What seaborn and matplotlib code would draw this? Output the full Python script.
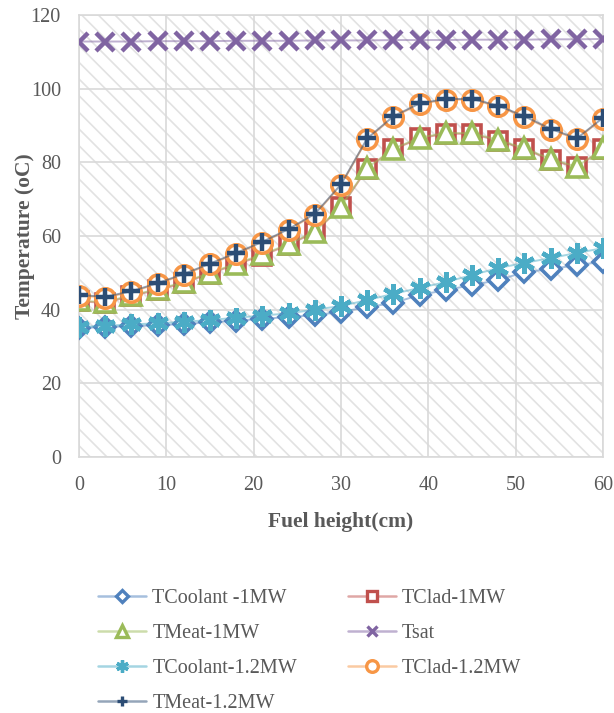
import numpy as np
import pandas as pd
import matplotlib
matplotlib.use("Agg")
import matplotlib.pyplot as plt
from matplotlib.patches import Rectangle
from matplotlib.lines import Line2D
import seaborn as sns

height = [0, 3, 6, 9, 12, 15, 18, 21, 24, 27, 30, 33, 36, 39, 42, 45, 48, 51, 54, 57, 60]

t_coolant_1mw = [35.0, 35.3, 35.5, 35.8, 36.1, 36.6, 37.0, 37.5, 38.0, 38.5, 39.4, 40.7, 41.8, 44.0, 45.3, 46.7, 48.0, 50.2, 51.0, 52.1, 53.0]
t_clad_1mw = [42.3, 41.8, 43.8, 45.3, 47.3, 49.8, 52.3, 54.7, 57.6, 61.0, 67.8, 78.3, 83.5, 86.5, 87.8, 87.7, 85.9, 83.6, 80.7, 78.6, 83.6]
t_meat_1mw = [42.5, 42.0, 44.0, 45.5, 47.5, 50.0, 52.5, 55.0, 57.8, 61.2, 68.0, 78.5, 83.7, 86.7, 88.0, 87.9, 86.1, 83.8, 80.9, 78.8, 83.8]
t_sat = [112.8, 112.8, 112.8, 112.9, 112.9, 112.9, 113.0, 113.0, 113.0, 113.1, 113.1, 113.1, 113.2, 113.2, 113.2, 113.3, 113.3, 113.3, 113.4, 113.4, 113.5]
t_coolant_12mw = [35.3, 35.6, 36.0, 36.3, 36.7, 37.2, 37.8, 38.4, 39.0, 40.0, 41.0, 42.6, 44.3, 45.9, 47.5, 49.4, 51.3, 52.7, 54.0, 55.4, 56.7]
t_clad_12mw = [43.8, 43.3, 44.8, 47.0, 49.5, 52.3, 55.2, 58.2, 61.7, 65.8, 73.8, 86.3, 92.3, 95.8, 97.0, 97.0, 95.2, 92.3, 88.9, 86.3, 91.9]
t_meat_12mw = [44.0, 43.5, 45.0, 47.2, 49.7, 52.5, 55.4, 58.4, 61.9, 66.0, 74.0, 86.5, 92.5, 96.0, 97.2, 97.2, 95.4, 92.5, 89.1, 86.5, 92.1]

series_names = ["TCoolant -1MW", "TClad-1MW", "TMeat-1MW", "Tsat",
                "TCoolant-1.2MW", "TClad-1.2MW", "TMeat-1.2MW"]
series_values = [t_coolant_1mw, t_clad_1mw, t_meat_1mw, t_sat,
                 t_coolant_12mw, t_clad_12mw, t_meat_12mw]
colors = ["#4F81BD", "#C0504D", "#9BBB59", "#8064A2", "#4BACC6", "#F79646", "#2C4D75"]
markers = ["D", "s", "^", "x", (6, 2, 0), "o", "+"]
msizes = [10.5, 13, 14, 13, 15, 14, 13]
hollow = [True, True, True, False, False, True, False]

sns.set_theme(style="white")
plt.rcParams["font.family"] = ["Liberation Serif", "DejaVu Serif"]
plt.rcParams["hatch.linewidth"] = 1.2

fig = plt.figure(figsize=(6.14, 7.13), dpi=100)
ax = fig.add_axes([79 / 614, 1 - 457 / 713, (603 - 79) / 614, (457 - 15) / 713])
ax.set_facecolor("white")
ax.add_patch(Rectangle((0, 0), 1, 1, transform=ax.transAxes, facecolor="none",
                       edgecolor="#e2e2e2", linewidth=0, hatch="\\" * 2, zorder=0.5))

handles = []
for name, vals, c, m, ms, hol in zip(series_names, series_values, colors, markers, msizes, hollow):
    df = pd.DataFrame({"x": height, "y": vals})
    if hol:
        mk = dict(marker=m, markersize=ms, markeredgewidth=2.6,
                  markeredgecolor=c, markerfacecolor="white")
    else:
        mk = dict(marker=m, markersize=ms, markeredgewidth=3.2,
                  markeredgecolor=c, markerfacecolor=c)
    line_rgba = matplotlib.colors.to_rgba(c, 0.5)
    sns.lineplot(data=df, x="x", y="y", ax=ax, color=line_rgba, linewidth=1.4,
                 legend=False, zorder=3, **mk)
    h = Line2D([0], [0], color=line_rgba, linewidth=1.8,
               **{**mk, "markersize": mk["markersize"] * 0.6, "markeredgewidth": 2.4})
    handles.append(h)

ax.set_xlim(0, 60)
ax.set_ylim(0, 120)
ax.set_xticks(range(0, 61, 10))
ax.set_yticks(range(0, 121, 20))
ax.grid(True, color="#d9d9d9", linewidth=1.2)
ax.set_axisbelow(True)
for s in ax.spines.values():
    s.set_color("#d9d9d9")
    s.set_linewidth(1.2)
ax.tick_params(axis="both", length=0, labelsize=14.5, colors="#595959")
ax.tick_params(axis="y", pad=13)
ax.tick_params(axis="x", pad=14)
ax.set_xlabel("Fuel height(cm)", fontsize=15.5, fontweight="bold", color="#595959", labelpad=12)
ax.set_ylabel("Temperature (oC)", fontsize=15.5, fontweight="bold", color="#595959", labelpad=-3)

order = [0, 2, 4, 6, 1, 3, 5]
fig.legend([handles[i] for i in order], [series_names[i] for i in order],
           loc="upper left", bbox_to_anchor=(80 / 614, 1 - 571 / 713), ncol=2,
           frameon=False, fontsize=14.5, handlelength=2.4, handletextpad=0.3,
           columnspacing=2.5, labelspacing=0.78, labelcolor="#595959")

fig.savefig("out.png", dpi=100)
